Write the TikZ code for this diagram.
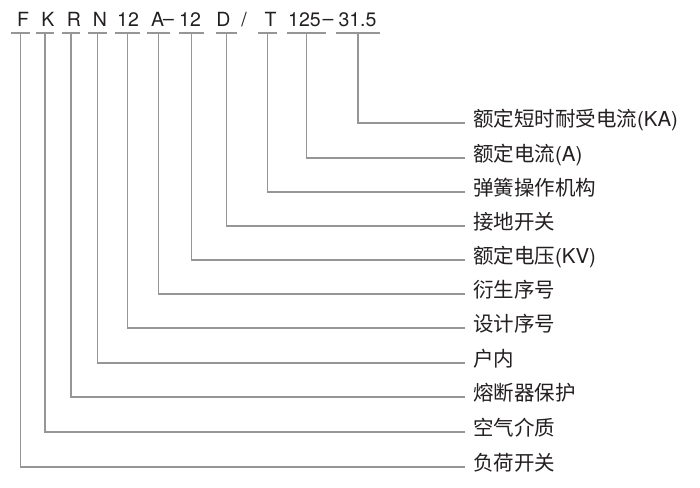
\documentclass[tikz,border=0pt]{standalone}
\usepackage{fontspec}
\setmainfont{TeX Gyre Heros}
\newfontfamily\cjk{Noto Sans CJK SC}
\definecolor{ink}{RGB}{35,31,32}
\definecolor{rule}{RGB}{150,150,150}
\begin{document}
\begin{tikzpicture}[x=1pt, y=-1pt,
    lead/.style = {draw=rule, line width=1.2pt},
    code/.style = {anchor=base, inner sep=0pt, text=ink, font=\fontsize{19.5}{19.5}\selectfont},
    tag/.style = {anchor=west, inner sep=0pt, outer xsep=8pt, text height=0.83em, text depth=0.07em, text=ink, font=\fontsize{20.5}{20.5}\selectfont}]
    \useasboundingbox (0,0) rectangle (700,487);
    % model code
    \node[code] (f) at (23,27) {F};
    \node[code] (k) at (48,27) {K};
    \node[code] (r) at (74,27) {R};
    \node[code] (n) at (100,27) {N};
    \node[code] (ser) at (128,27) {12};
    \node[code] (a) at (157.5,27) {A};
    \node[code] (dash1) at (168.5,25.5) {\textendash};
    \node[code] (volt) at (190,27) {12};
    \node[code] (d) at (223.5,27) {D};
    \node[code] (slash) at (244,27) {/};
    \node[code] (t) at (270.5,27) {T};
    \node[code] (amp) at (304.5,27) {125};
    \node[code] (dash2) at (328,25.5) {\textendash};
    \node[code] (ka) at (357.5,27) {31.5};
    % meanings
    \node[tag] (short) at (465,123) {{\cjk 额定短时耐受电流}(KA)};
    \node[tag] (rated) at (465,158) {{\cjk 额定电流}(A)};
    \node[tag] (spring) at (465,192) {\cjk 弹簧操作机构};
    \node[tag] (earth) at (465,226) {\cjk 接地开关};
    \node[tag] (kv) at (465,260) {{\cjk 额定电压}(KV)};
    \node[tag] (derive) at (465,294) {\cjk 衍生序号};
    \node[tag] (design) at (465,328) {\cjk 设计序号};
    \node[tag] (indoor) at (465,363) {\cjk 户内};
    \node[tag] (fuse) at (465,397) {\cjk 熔断器保护};
    \node[tag] (air) at (465,432) {\cjk 空气介质};
    \node[tag] (load) at (465,467) {\cjk 负荷开关};
    % underlines
    \draw[lead] (11,33) -- (30,33) coordinate[pos=.5] (f0);
    \draw[lead] (36,33) -- (54,33) coordinate[pos=.5] (k0);
    \draw[lead] (62,33) -- (80,33) coordinate[pos=.5] (r0);
    \draw[lead] (88,33) -- (107,33) coordinate[pos=.5] (n0);
    \draw[lead] (115,33) -- (140,33) coordinate[pos=.5] (ser0);
    \draw[lead] (147,33) -- (170,33) coordinate[pos=.5] (a0);
    \draw[lead] (179,33) -- (204,33) coordinate[pos=.5] (volt0);
    \draw[lead] (216,33) -- (237,33) coordinate[pos=.5] (d0);
    \draw[lead] (258,33) -- (277,33) coordinate[pos=.5] (t0);
    \draw[lead] (287,33) -- (326,33) coordinate[pos=.5] (amp0);
    \draw[lead] (336,33) -- (380,33) coordinate[pos=.5] (ka0);
    % leaders
    \draw[lead] (f0) |- (load.west);
    \draw[lead] (k0) |- (air.west);
    \draw[lead] (r0) |- (fuse.west);
    \draw[lead] (n0) |- (indoor.west);
    \draw[lead] (ser0) |- (design.west);
    \draw[lead] (a0) |- (derive.west);
    \draw[lead] (volt0) |- (kv.west);
    \draw[lead] (d0) |- (earth.west);
    \draw[lead] (t0) |- (spring.west);
    \draw[lead] (amp0) |- (rated.west);
    \draw[lead] (ka0) |- (short.west);
\end{tikzpicture}
\end{document}
